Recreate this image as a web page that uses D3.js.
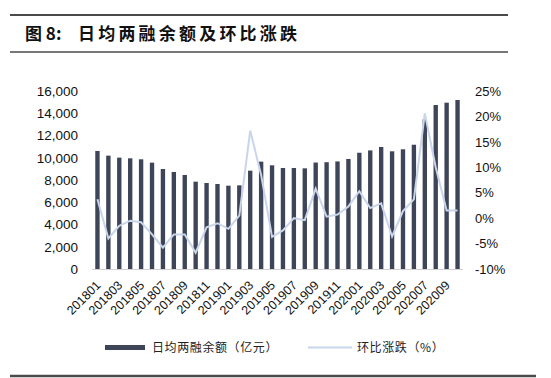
<!DOCTYPE html>
<html>
<head>
<meta charset="utf-8">
<script src="https://cdn.jsdelivr.net/npm/d3@7"></script>
<style>
  body { margin: 0; background: #fff; }
  text { font-family: "Liberation Sans", Arial, sans-serif; }
  .cn { font-family: "Noto Sans CJK SC", sans-serif; }
</style>
</head>
<body>
<div id="chart"></div>
<script>
let w = 551
let h = 378

// data
let months = ["201801","201802","201803","201804","201805","201806","201807","201808","201809","201810","201811","201812",
	"201901","201902","201903","201904","201905","201906","201907","201908","201909","201910","201911","201912",
	"202001","202002","202003","202004","202005","202006","202007","202008","202009","202010"]
let balance = [10610,10190,10010,9950,9860,9560,8990,8720,8450,7850,7730,7640,
	7490,7520,8840,9650,9320,9080,9080,9050,9570,9600,9670,9890,
	10450,10660,10970,10580,10760,11170,13460,14740,14950,15190]
let change = [3.7,-4.0,-1.5,-0.5,-0.8,-3.2,-5.8,-3.2,-3.2,-6.8,-1.8,-1.0,
	-2.1,0.5,17.2,8.5,-3.7,-2.4,0.0,-0.4,5.8,0.3,0.7,2.3,
	5.3,2.0,2.9,-3.6,1.4,3.7,20.6,10.0,1.5,1.5]
let leftTicks = [0,2000,4000,6000,8000,10000,12000,14000,16000]
let rightTicks = [-10,-5,0,5,10,15,20,25]
let title = "日均两融余额及环比涨跌"
let legendNames = ["日均两融余额（亿元）", "环比涨跌（%）"]

let barColor = "#3f4558"
let lineColor = "#c8d5ea"

let svg = d3.select("#chart").append("svg")
	.attr("width", w)
	.attr("height", h)

// header rules and title
svg.append("line").attr("x1", 10).attr("x2", 508).attr("y1", 15).attr("y2", 15)
	.attr("stroke", "#4a4a4a").attr("stroke-width", 2)
svg.append("line").attr("x1", 10).attr("x2", 508).attr("y1", 52).attr("y2", 52)
	.attr("stroke", "#4a4a4a").attr("stroke-width", 1.5)
svg.append("line").attr("x1", 10).attr("x2", 536).attr("y1", 376).attr("y2", 376)
	.attr("stroke", "#4a4a4a").attr("stroke-width", 2.5)

svg.append("text").attr("class", "cn")
	.attr("x", 25).attr("y", 40)
	.attr("font-size", 17).attr("font-weight", "bold").attr("fill", "#111")
	.text("图 8:")
svg.append("text").attr("class", "cn")
	.attr("x", 78).attr("y", 40)
	.attr("font-size", 17).attr("font-weight", "bold").attr("fill", "#111")
	.attr("letter-spacing", 3.2)
	.text(title)

// scales
let x = d3.scaleBand()
	.domain(months)
	.range([92, 463])
	.paddingInner(0.6)
	.paddingOuter(0.3)

let yL = d3.scaleLinear().domain([0, 16000]).range([269, 91])
let yR = d3.scaleLinear().domain([-10, 25]).range([269, 91])

// left axis
let leftAxis = d3.axisLeft(yL).tickValues(leftTicks).tickSize(0).tickPadding(0)
	.tickFormat(d3.format(","))
let gl = svg.append("g").attr("transform", "translate(78,0)").call(leftAxis)
gl.select(".domain").remove()
gl.selectAll("text").attr("font-size", 13.5).attr("fill", "#111")
	.attr("font-family", "'Liberation Sans', Arial, sans-serif")

// right axis
let rightAxis = d3.axisRight(yR).tickValues(rightTicks).tickSize(0).tickPadding(0)
	.tickFormat(d => d + "%")
let gr = svg.append("g").attr("transform", "translate(475,0)").call(rightAxis)
gr.select(".domain").remove()
gr.selectAll("text").attr("font-size", 13).attr("fill", "#111")
	.attr("font-family", "'Liberation Sans', Arial, sans-serif")

// baseline
svg.append("line").attr("x1", 92).attr("x2", 463).attr("y1", 269.5).attr("y2", 269.5)
	.attr("stroke", "#d0d0d0").attr("stroke-width", 1)

// bars
svg.selectAll("rect.bar")
	.data(balance)
	.enter()
	.append("rect")
	.attr("class", "bar")
	.attr("x", (d, i) => x(months[i]))
	.attr("y", d => yL(d))
	.attr("width", x.bandwidth())
	.attr("height", d => yL(0) - yL(d))
	.attr("fill", barColor)

// line
let line = d3.line()
	.x((d, i) => x(months[i]) + x.bandwidth() / 2)
	.y(d => yR(d))
svg.append("path")
	.datum(change)
	.attr("d", line)
	.attr("fill", "none")
	.attr("stroke", lineColor)
	.attr("stroke-width", 2)

// x labels (every other month)
let xAxis = d3.axisBottom(x)
	.tickValues(months.filter((m, i) => i % 2 == 0))
	.tickSize(0).tickPadding(0)
let gx = svg.append("g").attr("transform", "translate(0,270)").call(xAxis)
gx.select(".domain").remove()
gx.selectAll("text")
	.attr("font-size", 12.5).attr("fill", "#111")
	.attr("font-family", "'Liberation Sans', Arial, sans-serif")
	.attr("text-anchor", "end")
	.attr("dy", null)
	.attr("y", 0)
	.attr("transform", "translate(4,16) rotate(-45)")

// legend
svg.append("rect").attr("x", 105).attr("y", 345).attr("width", 40).attr("height", 5)
	.attr("fill", barColor)
svg.append("text").attr("class", "cn").attr("x", 152).attr("y", 352)
	.attr("font-size", 12).attr("letter-spacing", 0.6).attr("fill", "#222")
	.text(legendNames[0])
svg.append("line").attr("x1", 308).attr("x2", 352).attr("y1", 347.5).attr("y2", 347.5)
	.attr("stroke", lineColor).attr("stroke-width", 2)
svg.append("text").attr("class", "cn").attr("x", 357).attr("y", 352)
	.attr("font-size", 12).attr("letter-spacing", 0.6).attr("fill", "#222")
	.text(legendNames[1])
</script>
</body>
</html>
